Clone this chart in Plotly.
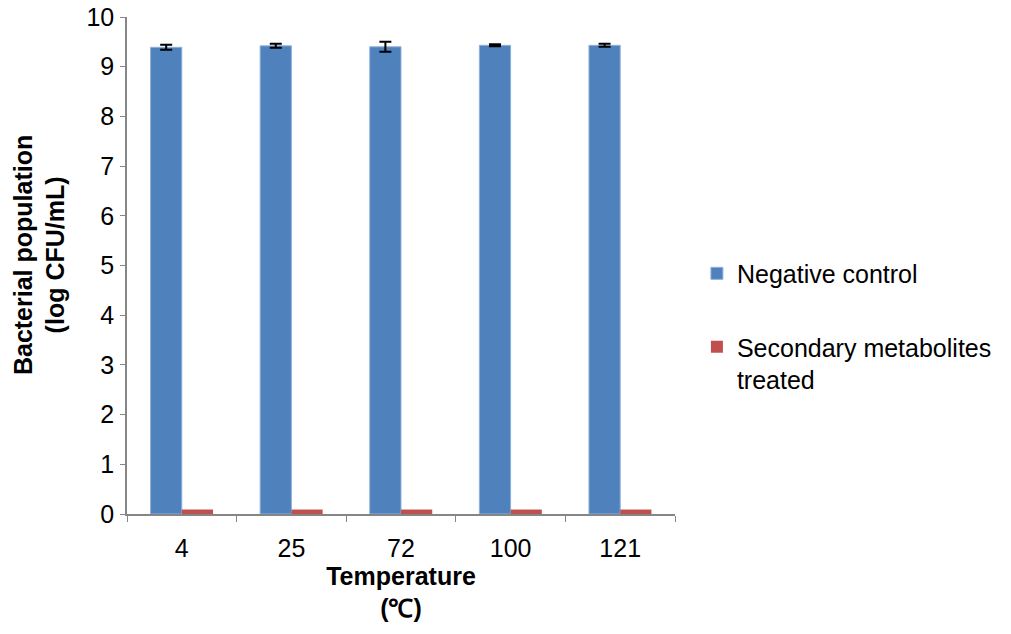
import plotly.graph_objects as go

categories = ["4", "25", "72", "100", "121"]
negative_control = [9.39, 9.42, 9.40, 9.43, 9.43]
negative_control_err = [0.05, 0.04, 0.10, 0.02, 0.03]
secondary_treated = [0.09, 0.09, 0.09, 0.09, 0.09]

FONT = "Arial, Liberation Sans, sans-serif"
AXIS_COLOR = "#868686"

fig = go.Figure()
fig.add_trace(go.Bar(
    x=categories, y=negative_control, name="Negative control",
    marker=dict(color="#4F81BD", line=dict(color="#8FB0DA", width=1)),
    error_y=dict(type="data", array=negative_control_err, visible=True,
                 color="black", thickness=2, width=6),
    legendgroup="a",
))
fig.add_trace(go.Bar(
    x=categories, y=secondary_treated, name="Secondary metabolites<br>treated",
    marker=dict(color="#C0504D", line=dict(width=0)),
    legendgroup="b",
))

fig.update_layout(
    width=1011, height=634,
    margin=dict(l=127, r=336, t=17, b=120),
    plot_bgcolor="white", paper_bgcolor="white",
    font=dict(family=FONT, size=25, color="black"),
    barmode="group", bargap=0.43, bargroupgap=0,
    legend=dict(x=1.04, y=0.53, xanchor="left", yanchor="top",
                font=dict(size=25), tracegroupgap=38, itemwidth=30,
                traceorder="grouped", valign="top"),
    xaxis=dict(
        showline=True, linecolor=AXIS_COLOR, linewidth=1.5,
        ticks="outside", tickson="boundaries", ticklen=6, tickcolor=AXIS_COLOR,
        tickfont=dict(size=25), automargin=False, ticklabelstandoff=11,
        title=dict(text="<b>Temperature<br>(℃)</b>", font=dict(size=25), standoff=4),
    ),
    yaxis=dict(
        range=[0, 10], dtick=1,
        showline=True, linecolor=AXIS_COLOR, linewidth=1.5,
        ticks="outside", ticklen=5, tickcolor=AXIS_COLOR,
        showgrid=False, zeroline=False, automargin=False,
        ticklabeloverflow="allow", ticklabelstandoff=1,
        tickfont=dict(size=25),
    ),
    annotations=[dict(
        text="<b>Bacterial population<br>(log CFU/mL)</b>",
        xref="paper", yref="paper", x=0, y=0.521, xshift=-88,
        xanchor="center", yanchor="middle", textangle=-90,
        showarrow=False, font=dict(size=25),
    )],
)

fig.write_html("out.html", config={"displayModeBar": False},
               post_script="document.body.style.margin='0';")
